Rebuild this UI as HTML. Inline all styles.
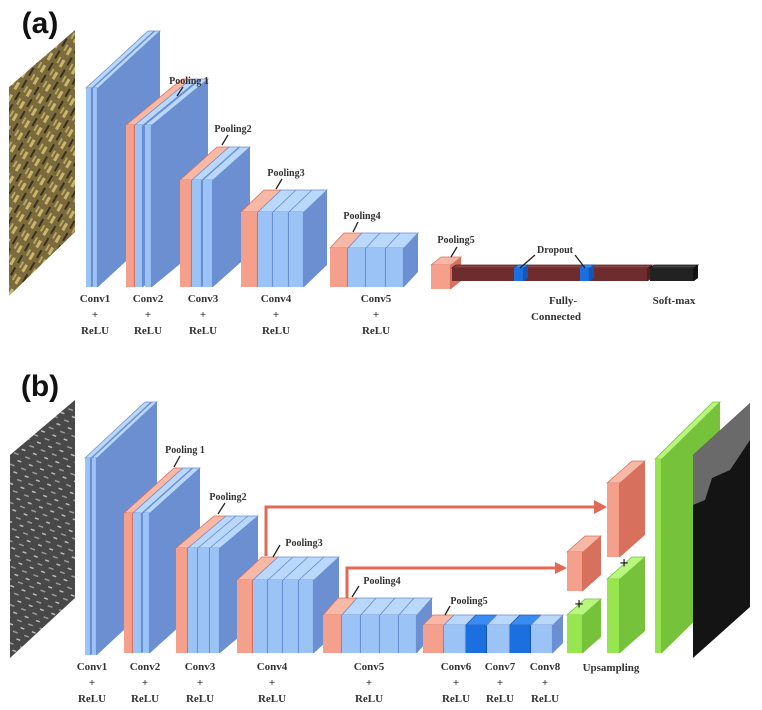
<!DOCTYPE html>
<html><head><meta charset="utf-8"><style>
html,body{margin:0;padding:0;background:#fff;}
svg{display:block}
text{font-family:"Liberation Serif",serif;font-weight:bold;fill:#333;font-size:11px;text-anchor:middle}
</style></head><body>
<svg id="s" width="762" height="710" xmlns="http://www.w3.org/2000/svg">
<defs>
<pattern id="gold" width="14" height="14" patternUnits="userSpaceOnUse" patternTransform="rotate(-60)">
<rect width="14" height="14" fill="#7a6a3c"/>
<rect x="0" y="0" width="8" height="3" fill="#c9b56e"/>
<rect x="5" y="6" width="9" height="2" fill="#3b3020"/>
<rect x="2" y="10" width="7" height="2" fill="#b8a560"/>
</pattern>
<pattern id="sem" width="12" height="12" patternUnits="userSpaceOnUse" patternTransform="rotate(20)">
<rect width="12" height="12" fill="#484848"/>
<rect y="0" width="5" height="1.5" fill="#9a9a9a"/>
<rect x="6" y="6" width="4" height="1.5" fill="#bbb"/>
</pattern>
</defs>
<g id="g"></g>
<text x="40" y="33" style="font-family:'Liberation Sans',sans-serif;font-size:30px;fill:#111">(a)</text>
<text x="40" y="396" style="font-family:'Liberation Sans',sans-serif;font-size:30px;fill:#111">(b)</text>
</svg>
<script>
var g=document.getElementById('g'),NS='http://www.w3.org/2000/svg';
function el(t,a){var e=document.createElementNS(NS,t);for(var k in a)e.setAttribute(k,a[k]);g.appendChild(e);return e;}
function poly(p,f,st){var a={points:p.map(function(q){return q.join(',')}).join(' '),fill:f};if(st){a.stroke=st;a['stroke-width']=0.8;}el('polygon',a);}
var C={b:['#9cc3f6','#b9d8fc','#6c8fd2'],p:['#f4a08c','#f8b8a6','#d8705e'],g:['#97e64f','#b8f77d','#76c23a'],d:['#1c6fdf','#3a8cf2','#1657b5'],r:['#6e2c2c','#8a4444','#521e1e'],k:['#222','#444','#111']};
function slab(x,w,yt,yb,dx,dy,c){c=C[c];
poly([[x+w,yt],[x+w+dx,yt-dy],[x+w+dx,yb-dy],[x+w,yb]],c[2]);
poly([[x,yt],[x+dx,yt-dy],[x+w+dx,yt-dy],[x+w,yt]],c[1],c[2]);
el('rect',{x:x,y:yt,width:w,height:yb-yt,fill:c[0]});
el('line',{x1:x+w-0.5,y1:yt,x2:x+w-0.5,y2:yb,stroke:c[2],'stroke-width':1.2});}
function layer(list,yt,yb,dx,dy){list.forEach(function(s){slab(s[0],s[1],yt,yb,dx,dy,s[2]);});}
function T(x,y,s,extra){var t=el('text',{x:x,y:y});t.textContent=s;if(extra)t.setAttribute('style',extra);}
function L(x1,y1,x2,y2){el('line',{x1:x1,y1:y1,x2:x2,y2:y2,stroke:'#222','stroke-width':1.3});}
function lab3(x,y,n){T(x,y,n);T(x,y+16,'+');T(x,y+32,'ReLU');}
// panel a
poly([[9,87],[75,30],[75,232],[9,296]],'url(#gold)');
layer([[86,6,'b'],[93,5,'b']],88,287,62,57);
layer([[126,9,'p'],[135,8,'b'],[145,7,'b']],125,287,56,46);
layer([[180,12,'p'],[192,10,'b'],[203,10,'b']],180,287,37,33);
layer([[241,17,'p'],[258,15,'b'],[273,16,'b'],[289,15,'b']],212,287,23,22);
layer([[330,18,'p'],[348,18,'b'],[366,20,'b'],[386,18,'b']],248,287,14,15);
slab(431,20,265,289,10,8,'p');
slab(452,196,268,281,4,3,'r');
slab(514,10,268,281,4,3,'d');slab(580,10,268,281,4,3,'d');
slab(650,44,268,281,4,3,'k');
T(189,84,'Pooling 1',"font-size:10px");L(183,87,177,96);
T(233,132,'Pooling2',"font-size:10px");L(228,135,222,145);
T(286,176,'Pooling3',"font-size:10px");L(282,179,276,189);
T(362,219,'Pooling4',"font-size:10px");L(358,222,353,232);
T(456,243,'Pooling5',"font-size:10px");L(457,247,451,257);
T(555,253,'Dropout',"font-size:10px");L(535,255,520,268);L(575,255,585,268);
lab3(95,302,'Conv1');lab3(148,302,'Conv2');lab3(203,302,'Conv3');lab3(276,302,'Conv4');lab3(376,302,'Conv5');
T(563,304,'Fully-');T(556,320,'Connected');T(674,304,'Soft-max');
// panel b
poly([[10,455],[75,400],[75,598],[10,658]],'url(#sem)');
layer([[85,6,'b'],[92,5,'b']],458,655,60,56);
layer([[124,9,'p'],[133,9,'b'],[143,7,'b']],513,653,50,45);
layer([[176,12,'p'],[188,10,'b'],[198,12,'b'],[210,10,'b']],548,653,38,32);
layer([[237,16,'p'],[253,15,'b'],[268,15,'b'],[283,16,'b'],[299,15,'b']],580,653,25,23);
layer([[323,19,'p'],[342,19,'b'],[361,19,'b'],[380,19,'b'],[399,18,'b']],615,653,15,17);
layer([[423,21,'p'],[444,22,'b'],[466,21,'d'],[487,23,'b'],[510,21,'d'],[531,22,'b']],625,653,10,10);
// arrows
el('polyline',{points:'266,556 266,507 598,507',fill:'none',stroke:'#e06a55','stroke-width':3});
poly([[607,507],[594,500],[594,514]],'#e06a55');
el('polyline',{points:'347,598 347,568 558,568',fill:'none',stroke:'#e06a55','stroke-width':3});
poly([[567,568],[555,562],[555,574]],'#e06a55');
slab(567,16,552,591,18,16,'p');
slab(567,16,615,653,18,16,'g');
slab(607,13,483,557,25,22,'p');
slab(607,13,579,653,25,22,'g');
slab(655,7,459,653,58,57,'g');
poly([[693,455],[750,403],[750,607],[693,658]],'#141414');
poly([[693,455],[750,403],[750,440],[730,470],[712,478],[705,500],[693,505]],'#6a6a6a');
T(579,609,'+',"font-size:16px;fill:#111");T(624,568,'+',"font-size:16px;fill:#111");
T(185,453,'Pooling 1',"font-size:10px");L(180,456,174,467);
T(228,500,'Pooling2',"font-size:10px");L(225,503,218,514);
T(304,546,'Pooling3',"font-size:10px");L(280,545,273,557);
T(382,584,'Pooling4',"font-size:10px");L(359,586,352,597);
T(469,604,'Pooling5',"font-size:10px");L(450,606,445,615);
lab3(92,670,'Conv1');lab3(145,670,'Conv2');lab3(200,670,'Conv3');lab3(272,670,'Conv4');lab3(369,670,'Conv5');
lab3(456,670,'Conv6');lab3(500,670,'Conv7');lab3(545,670,'Conv8');
T(611,671,'Upsampling');
</script>
</body></html>
